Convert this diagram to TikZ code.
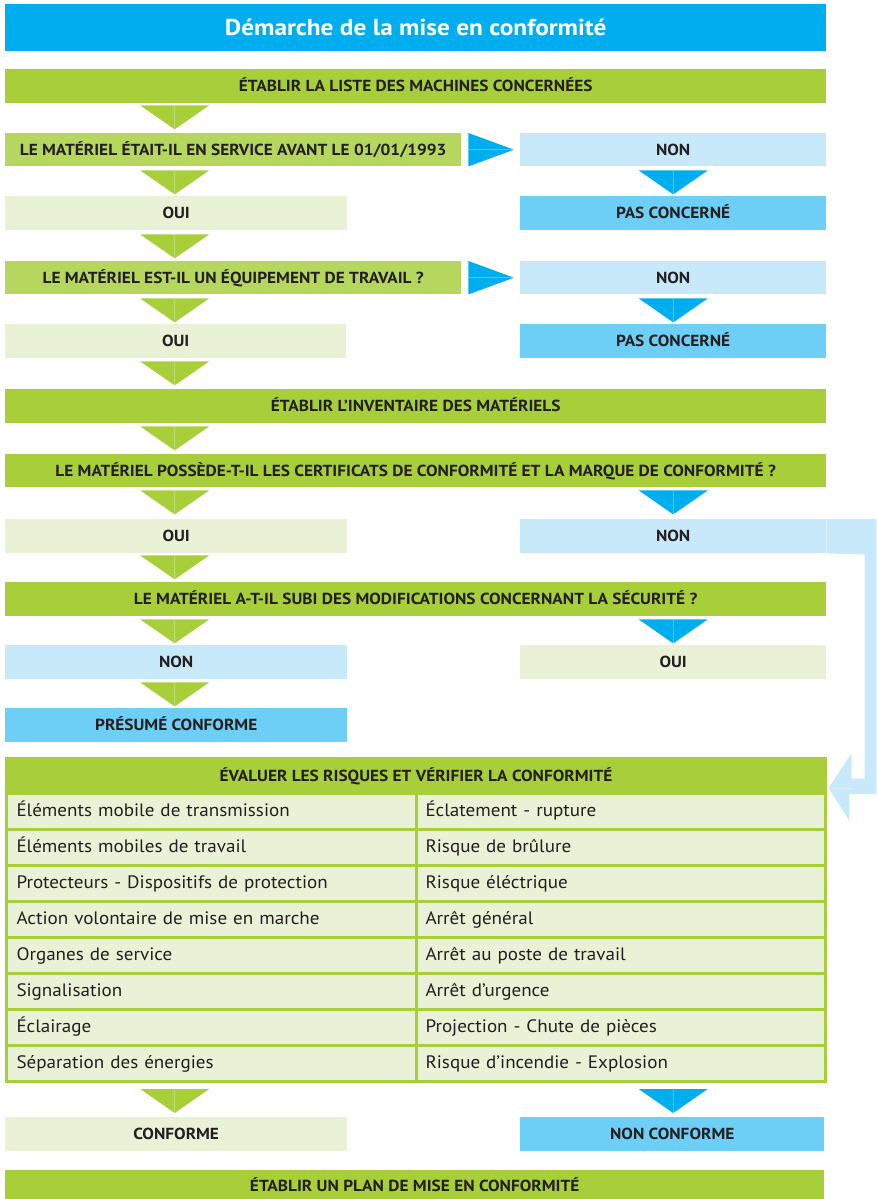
\documentclass[tikz,border=0pt]{standalone}
\usepackage{fontspec}
\setmainfont{PT Sans}
\newfontfamily\capsfont{PT Sans}[FakeStretch=1.08]
\newfontfamily\titlefont{PT Sans}[FakeStretch=1.1]
\newfontfamily\cellfont{PT Sans}[FakeStretch=1.06]
\usetikzlibrary{calc}
\definecolor{tblue}{HTML}{00AEEF}
\definecolor{tgreen}{HTML}{A8CE3A}
\definecolor{qgreen}{HTML}{B6D65E}
\definecolor{lgreen}{HTML}{E9F2D6}
\definecolor{lblue}{HTML}{C7E9F9}
\definecolor{mblue}{HTML}{6DCFF6}
\definecolor{ink}{HTML}{231F20}
\tikzset{
  bx/.style 2 args={minimum width=#1pt, minimum height=#2pt},
  box/.style={anchor=north west, inner sep=0pt, text=ink, align=center,
    text height=11.5pt, text depth=0pt,
    font=\capsfont\bfseries\fontsize{16}{18}\selectfont},
  cell/.style={anchor=north west, inner xsep=10pt, inner ysep=0pt, text width=390pt,
    minimum height=36pt, align=left, fill=lgreen, draw=tgreen, line width=3pt,
    text height=13pt, text depth=4pt,
    text=ink, font=\cellfont\fontsize{18}{20}\selectfont},
  dtri/.pic={\fill[#1] (-34.5,0) -- (34.5,0) -- (0,24) -- cycle;
    \draw[white, opacity=0.3, line width=0.5pt] (0,0) -- (0,24);},
}
\begin{document}
\begin{tikzpicture}[x=1pt,y=-1pt]
\useasboundingbox (0,0) rectangle (876,1199);
% title
\node[box, fill=tblue, bx={821}{47}, text=white, text height=16pt, text depth=0pt, font=\titlefont\bfseries\fontsize{23}{26}\selectfont] (title) at (5,4) {Démarche de la mise en conformité};
% main column
\node[box, fill=tgreen, bx={821}{34}] (s1) at (5,69) {ÉTABLIR LA LISTE DES MACHINES CONCERNÉES};
\node[box, fill=qgreen, bx={456}{33}] (q1) at (5,133) {LE MATÉRIEL ÉTAIT-IL EN SERVICE AVANT LE 01/01/1993};
\node[box, fill=lblue, bx={306}{33}] (n1) at (520,133) {NON};
\node[box, fill=lgreen, bx={342}{34}] (o1) at (5,196) {OUI};
\node[box, fill=mblue, bx={306}{34}] (pc1) at (520,196) {PAS CONCERNÉ};
\node[box, fill=qgreen, bx={456}{33}] (q2) at (5,261) {LE MATÉRIEL EST-IL UN ÉQUIPEMENT DE TRAVAIL ?};
\node[box, fill=lblue, bx={306}{33}] (n2) at (520,261) {NON};
\node[box, fill=lgreen, bx={341}{34}] (o2) at (5,324) {OUI};
\node[box, fill=mblue, bx={306}{34}] (pc2) at (520,324) {PAS CONCERNÉ};
\node[box, fill=tgreen, bx={821}{34}] (s2) at (5,389) {ÉTABLIR L’INVENTAIRE DES MATÉRIELS};
\node[box, fill=tgreen, bx={821}{33}] (q3) at (5,454) {LE MATÉRIEL POSSÈDE-T-IL LES CERTIFICATS DE CONFORMITÉ ET LA MARQUE DE CONFORMITÉ ?};
\node[box, fill=lgreen, bx={342}{34}] (o3) at (5,519) {OUI};
\node[box, fill=lblue, bx={306}{34}] (n3) at (520,519) {NON};
\node[box, fill=tgreen, bx={821}{34}] (q4) at (5,582) {LE MATÉRIEL A-T-IL SUBI DES MODIFICATIONS CONCERNANT LA SÉCURITÉ ?};
\node[box, fill=lblue, bx={342}{34}] (n4) at (5,645) {NON};
\node[box, fill=lgreen, bx={306}{34}] (o4) at (520,645) {OUI};
\node[box, fill=mblue, bx={342}{34}] (pres) at (5,708) {PRÉSUMÉ CONFORME};
% table
\node[box, fill=tgreen, draw=tgreen, line width=3pt, bx={819}{35}] (th) at (5,757) {ÉVALUER LES RISQUES ET VÉRIFIER LA CONFORMITÉ};
\foreach \l/\r [count=\i from 0] in {
  Éléments mobile de transmission/Éclatement - rupture,
  Éléments mobiles de travail/Risque de brûlure,
  Protecteurs - Dispositifs de protection/Risque éléctrique,
  Action volontaire de mise en marche/Arrêt général,
  Organes de service/Arrêt au poste de travail,
  Signalisation/Arrêt d’urgence,
  Éclairage/Projection - Chute de pièces,
  Séparation des énergies/Risque d’incendie - Explosion}{
  \node[cell] (l\i) at (5,792+36*\i) {\l};
  \node[cell, inner xsep=9pt, text width=391pt] (r\i) at (415,792+36*\i) {\r};
}
\node[box, fill=lgreen, bx={342}{34}] (conf) at (5,1117) {CONFORME};
\node[box, fill=mblue, bx={304}{34}] (nconf) at (520,1117) {NON CONFORME};
\node[box, fill=tgreen, bx={819}{32}] (plan) at (5,1170) {ÉTABLIR UN PLAN DE MISE EN CONFORMITÉ};
% down triangles (left column)
\pic at ($(s1.south -| o1.north)+(-1.5,2)$) {dtri=tgreen};
\pic at ($(q1.south -| o1.north)+(-1.5,4)$) {dtri=tgreen};
\pic at ($(o1.south)+(-1.5,4)$) {dtri=tgreen};
\pic at ($(q2.south -| o2.north)+(-1,4)$) {dtri=tgreen};
\pic at ($(o2.south)+(-1,3)$) {dtri=tgreen};
\pic at ($(s2.south -| o3.north)+(-1.5,3)$) {dtri=tgreen};
\pic at ($(q3.south -| o3.north)+(-1.5,3)$) {dtri=tgreen};
\pic at ($(o3.south)+(-1.5,2)$) {dtri=tgreen};
\pic at ($(q4.south -| n4.north)+(-1.5,3)$) {dtri=tgreen};
\pic at ($(n4.south)+(-1.5,3)$) {dtri=tgreen};
\pic at ($(l7.south -| conf.north)+(-1.5,6)$) {dtri=tgreen};
% down triangles (right column)
\pic at ($(n1.south)+(0,4)$) {dtri=tblue};
\pic at ($(n2.south)+(0,4)$) {dtri=tblue};
\pic at ($(q3.south -| n3.north)+(0,3)$) {dtri=tblue};
\pic at ($(q4.south -| o4.north)+(0,3)$) {dtri=tblue};
\pic at ($(r7.south -| nconf.north)+(1,6)$) {dtri=tblue};
% right arrows
\foreach \q/\n in {q1/n1, q2/n2}{
  \fill[tblue] ([xshift=7pt]\q.north east) -- ([xshift=-6pt]\n.west) -- ([xshift=7pt]\q.south east) -- cycle;
  \draw[white, opacity=0.3, line width=0.5pt] ([xshift=7pt]\q.east) -- ([xshift=-6pt]\n.west);
}
% connector NON -> evaluation
\coordinate (tip) at ($(th.east)+(1.5,12)$);
\fill[lblue] (n3.north east) -- ++(50,0) -- ++(0,275) -- ++(-27,0) -- ++(0,27)
  -- (tip) -- ++(23,-34.5) -- ++(0,25) -- ++(13,0) -- ++(0,-224) -- (n3.south east) -- cycle;
\draw[white, opacity=0.4, line width=0.5pt] (tip) -- ++(23,0);
\end{tikzpicture}
\end{document}
